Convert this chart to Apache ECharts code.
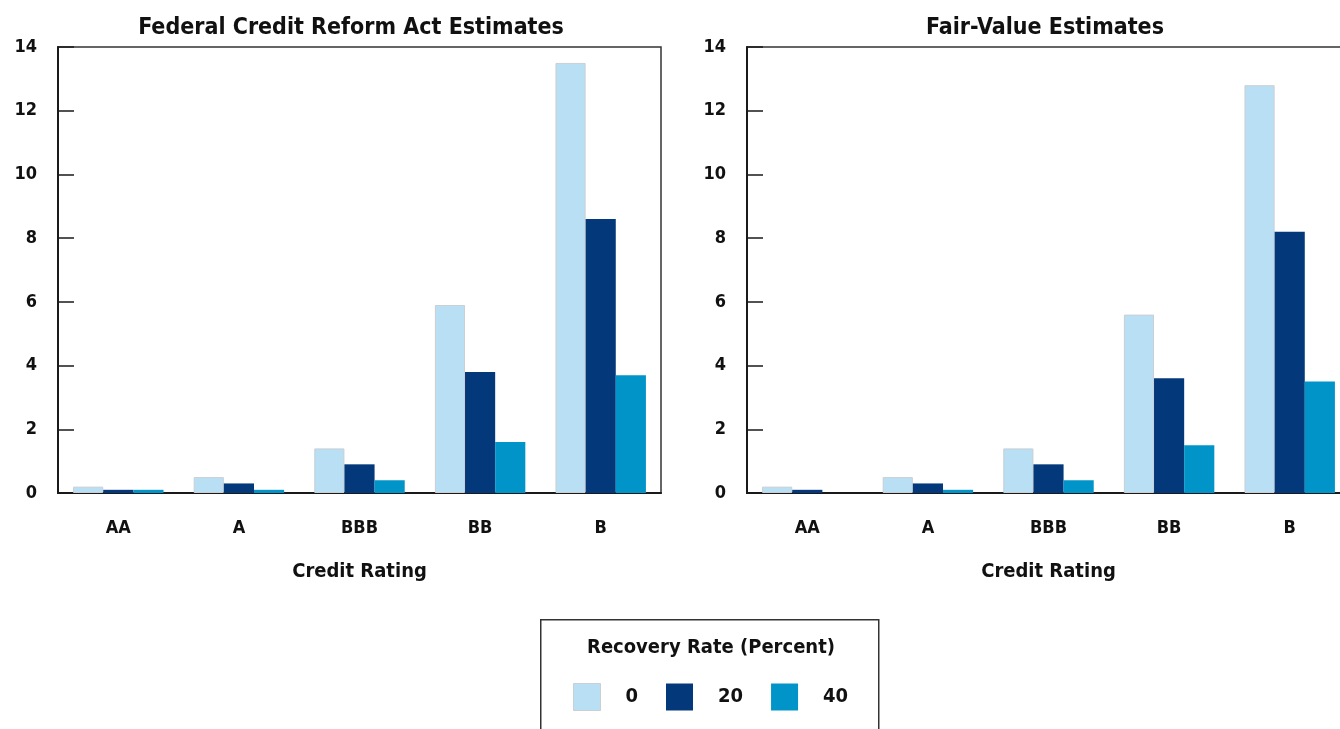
<!DOCTYPE html>
<html>
<head>
<meta charset="utf-8">
<script src="https://cdn.jsdelivr.net/npm/echarts@6/dist/echarts.min.js"></script>
<style>
html,body{margin:0;padding:0;background:#fff;}
#chart{width:1340px;height:729px;}
</style>
</head>
<body>
<div id="chart"></div>
<script>
const categories = ['AA', 'A', 'BBB', 'BB', 'B'];
const seriesNames = ['0', '20', '40'];
const fcraRate0 = [0.2, 0.5, 1.4, 5.9, 13.5];
const fcraRate20 = [0.1, 0.3, 0.9, 3.8, 8.6];
const fcraRate40 = [0.1, 0.1, 0.4, 1.6, 3.7];
const fairRate0 = [0.2, 0.5, 1.4, 5.6, 12.8];
const fairRate20 = [0.1, 0.3, 0.9, 3.6, 8.2];
const fairRate40 = [0.0, 0.1, 0.4, 1.5, 3.5];
const yTicks = [0, 2, 4, 6, 8, 10, 12, 14];
const titles = ['Federal Credit Reform Act Estimates', 'Fair-Value Estimates'];
const xAxisName = 'Credit Rating';
const legendTitle = 'Recovery Rate (Percent)';

const FONT = '"Liberation Sans Narrow", "DejaVu Sans Condensed", "Liberation Sans", sans-serif';
const colors = ['#b9dff4', '#03387a', '#0094c9'];

const chart = echarts.init(document.getElementById('chart'));

function yAxis(gi) {
  return {
    type: 'value', gridIndex: gi, min: yTicks[0], max: yTicks[yTicks.length - 1], interval: 2,
    axisLine: { show: true, lineStyle: { color: '#1a1a1a', width: 2 } },
    axisTick: { show: true, inside: true, length: 16, lineStyle: { color: '#1a1a1a', width: 1.5 } },
    axisLabel: { margin: 21, color: '#111', fontSize: 18, fontWeight: 'bold', fontFamily: FONT },
    splitLine: { show: false }
  };
}
function xAxis(gi) {
  return {
    type: 'category', gridIndex: gi, data: categories,
    axisLine: { show: true, lineStyle: { color: '#1a1a1a', width: 2 } },
    axisTick: { show: false },
    axisLabel: { margin: 26, color: '#111', fontSize: 18, fontWeight: 'bold', fontFamily: FONT },
    name: xAxisName, nameLocation: 'middle', nameGap: 69,
    nameTextStyle: { color: '#111', fontSize: 20, fontWeight: 'bold', fontFamily: FONT }
  };
}
function bar(name, data, gi, idx) {
  return {
    name: name, type: 'bar', xAxisIndex: gi, yAxisIndex: gi, data: data,
    barGap: 0, barCategoryGap: '25%',
    itemStyle: idx === 0 ? { color: colors[0], borderColor: '#c9cfd3', borderWidth: 1 } : { color: colors[idx] },
    emphasis: { disabled: true }
  };
}

const option = {
  animation: false,
  backgroundColor: '#fff',
  title: [
    { text: titles[0], left: 346, top: 12, textAlign: 'center',
      textStyle: { fontSize: 23, fontWeight: 'bold', color: '#111', fontFamily: FONT } },
    { text: titles[1], left: 1040, top: 12, textAlign: 'center',
      textStyle: { fontSize: 23, fontWeight: 'bold', color: '#111', fontFamily: FONT } }
  ],
  grid: [
    { left: 58, width: 603, top: 47, height: 446, outerBoundsMode: 'none', containLabel: false,
      show: true, borderColor: '#333', borderWidth: 1.5, backgroundColor: 'transparent' },
    { left: 747, width: 603, top: 47, height: 446, outerBoundsMode: 'none', containLabel: false,
      show: true, borderColor: '#333', borderWidth: 1.5, backgroundColor: 'transparent' }
  ],
  xAxis: [xAxis(0), xAxis(1)],
  yAxis: [yAxis(0), yAxis(1)],
  legend: {
    data: seriesNames.map((n, i) => i === 0 ? { name: n, itemStyle: { borderColor: '#c9cfd3', borderWidth: 1 } } : { name: n }),
    left: 573, top: 683, padding: 0,
    itemWidth: 27, itemHeight: 27, itemGap: 28,
    icon: 'rect',
    selectedMode: false,
    textStyle: { color: '#111', fontSize: 20, fontWeight: 'bold', fontFamily: FONT, padding: [0, 0, 0, 20] }
  },
  graphic: [
    { type: 'rect', left: 540, top: 619, shape: { width: 338, height: 130 },
      style: { fill: 'transparent', stroke: '#333', lineWidth: 1.5 }, silent: true },
    { type: 'text', x: 711, y: 648,
      style: { text: legendTitle, fill: '#111', fontSize: 20, fontWeight: 'bold', fontFamily: FONT,
               textAlign: 'center', textVerticalAlign: 'middle' } }
  ],
  series: [
    bar(seriesNames[0], fcraRate0, 0, 0),
    bar(seriesNames[1], fcraRate20, 0, 1),
    bar(seriesNames[2], fcraRate40, 0, 2),
    bar(seriesNames[0], fairRate0, 1, 0),
    bar(seriesNames[1], fairRate20, 1, 1),
    bar(seriesNames[2], fairRate40, 1, 2)
  ]
};
chart.setOption(option);
</script>
</body>
</html>
